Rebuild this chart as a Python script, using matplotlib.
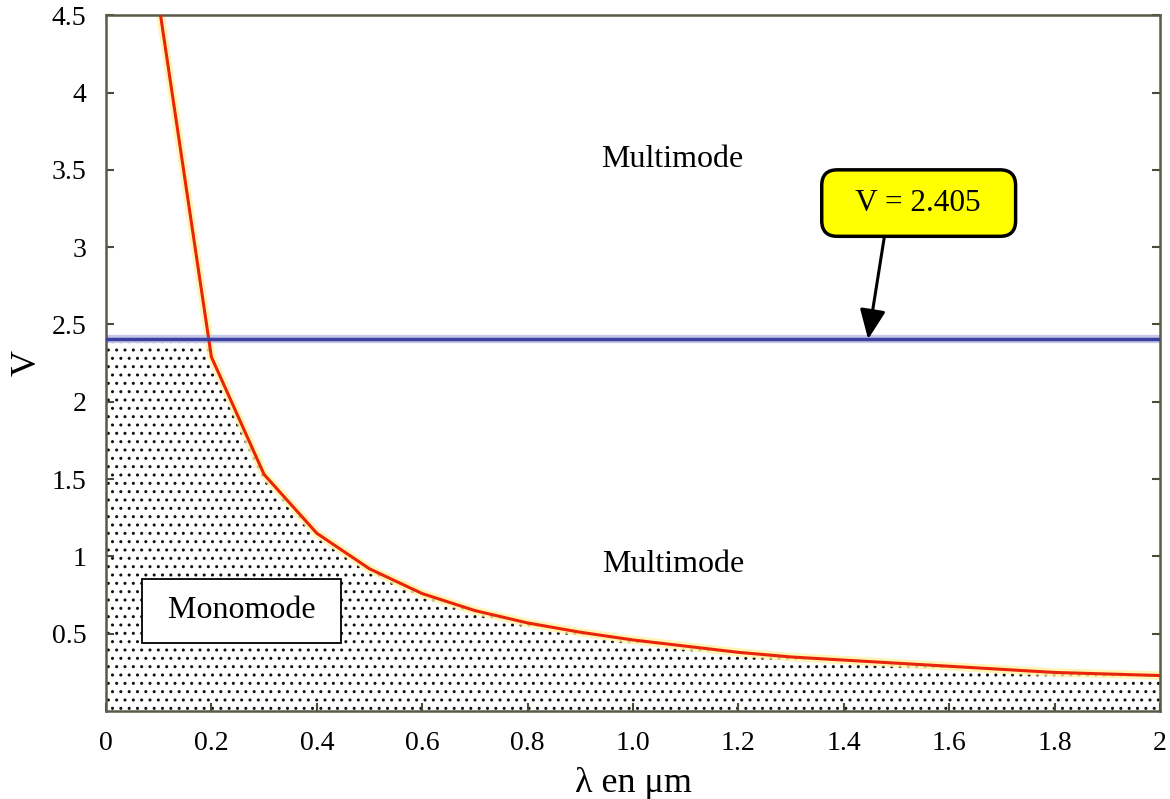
import matplotlib.pyplot as plt
import numpy as np

plt.rcParams['font.family'] = ['Liberation Serif', 'DejaVu Serif']

# données
lam = [0.1, 0.2, 0.3, 0.4, 0.5, 0.6, 0.7, 0.8, 0.9, 1.0,
       1.1, 1.2, 1.3, 1.4, 1.5, 1.6, 1.7, 1.8, 1.9, 2.0]
v_curve = [4.58, 2.29, 1.53, 1.15, 0.92, 0.76, 0.65, 0.57, 0.51, 0.46,
           0.42, 0.38, 0.35, 0.33, 0.31, 0.29, 0.27, 0.25, 0.24, 0.23]
v_cut = 2.405

x_ticks = [0, 0.2, 0.4, 0.6, 0.8, 1.0, 1.2, 1.4, 1.6, 1.8, 2]
x_labels = ['0', '0.2', '0.4', '0.6', '0.8', '1.0', '1.2', '1.4', '1.6', '1.8', '2']
y_ticks = [0.5, 1, 1.5, 2, 2.5, 3, 3.5, 4, 4.5]
y_labels = ['0.5', '1', '1.5', '2', '2.5', '3', '3.5', '4', '4.5']

fig = plt.figure(figsize=(11.7, 7.99), dpi=100)
ax = fig.add_axes([0.0906, 0.110, 0.9009, 0.871])

# zone monomode (pointillés) : sous min(courbe, 2.405)
xf = np.linspace(0, 2, 801)
vf = np.minimum(np.interp(xf, lam, v_curve), v_cut)
plt.rcParams['hatch.linewidth'] = 1.0
ax.fill_between(xf, 0, vf, facecolor='white', edgecolor='#111111',
                hatch='..', linewidth=0, zorder=1)

# courbe V(lambda) avec halo
ax.plot(lam, v_curve, color='#fff2a0', lw=6, alpha=0.8, zorder=2)
ax.plot(lam, v_curve, color='#e8250c', lw=2.2, zorder=3)

# droite V = 2.405
ax.axhline(v_cut, color='#c4c7e6', lw=6, zorder=2)
ax.axhline(v_cut, color='#3a3fa0', lw=2.5, zorder=3)

ax.text(1.074, 3.565, 'Multimode', fontsize=23, ha='center', va='center')
ax.text(1.076, 0.945, 'Multimode', fontsize=23, ha='center', va='center')
ax.text(0.257, 0.65, ' Monomode ', fontsize=23, ha='center', va='center', zorder=5,
        bbox=dict(boxstyle='square,pad=0.55', facecolor='white',
                  edgecolor='black', lw=1.3))

ax.annotate('  V = 2.405  ', xy=(1.446, 2.405), xytext=(1.542, 3.285),
            fontsize=22.5, ha='center', va='center', zorder=6,
            bbox=dict(boxstyle='round,pad=0.6,rounding_size=0.5',
                      facecolor='#ffff00', edgecolor='black', lw=2.5),
            arrowprops=dict(arrowstyle='-|>,head_length=0.8,head_width=0.35',
                            color='black', lw=2.2, shrinkA=0, shrinkB=0,
                            relpos=(0.3, 0.0)))

ax.set_xlim(0, 2)
ax.set_ylim(0, 4.5)
ax.set_xticks(x_ticks)
ax.set_xticklabels(x_labels)
ax.set_yticks(y_ticks)
ax.set_yticklabels(y_labels)
ax.tick_params(direction='in', length=6, width=1.5, color='#4a4a3a',
               labelsize=20, top=False, right=True, pad=14)
for s in ax.spines.values():
    s.set_color('#5a5a48')
    s.set_linewidth(1.8)

ax.set_xlabel('λ en μm', fontsize=26, labelpad=8)
ax.set_ylabel('V', fontsize=26, labelpad=6)

fig.savefig('out.png', dpi=100)
